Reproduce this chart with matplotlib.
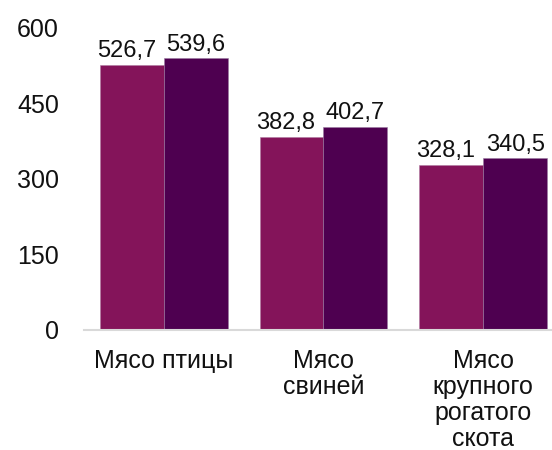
import matplotlib.pyplot as plt
import numpy as np

categories = ['Мясо птицы', 'Мясо\nсвиней', 'Мясо\nкрупного\nрогатого\nскота']
series_a = [526.7, 382.8, 328.1]
series_b = [539.6, 402.7, 340.5]
yticks = [0, 150, 300, 450, 600]

plt.rcParams['font.family'] = ['Liberation Sans', 'DejaVu Sans']

fig = plt.figure(figsize=(5.52, 4.5), dpi=100)
ax = fig.add_axes([0.152, 0.267, 0.868, 0.671])

x = np.arange(len(categories))
w = 0.4
bars_a = ax.bar(x - w / 2, series_a, width=w, color='#84145A', edgecolor='#b07aa0', linewidth=0.4)
bars_b = ax.bar(x + w / 2, series_b, width=w, color='#4E0050', edgecolor='#9a7aa0', linewidth=0.4)

for bars, vals, dx in [(bars_a, series_a, -4), (bars_b, series_b, 0)]:
    for b, v in zip(bars, vals):
        ax.annotate(f'{v:.1f}'.replace('.', ','), (b.get_x() + b.get_width() / 2, v),
                    xytext=(dx, 2), textcoords='offset points',
                    ha='center', va='bottom', fontsize=17, color='#111111')

ax.set_xlim(-0.5, len(categories) - 0.5)
ax.set_ylim(0, 600)
ax.set_yticks(yticks)
ax.set_yticklabels([str(t) for t in yticks], fontsize=18, color='#111111')
ax.set_xticks(x)
ax.set_xticklabels(categories, fontsize=18, color='#111111', linespacing=1.1, va='top')
ax.tick_params(axis='y', length=0, pad=18)
ax.tick_params(axis='x', length=0, pad=14)

for s in ['top', 'right', 'left']:
    ax.spines[s].set_visible(False)
ax.spines['bottom'].set_color('#D9D9D9')
ax.spines['bottom'].set_linewidth(1.5)

fig.savefig('out.png', dpi=100)
